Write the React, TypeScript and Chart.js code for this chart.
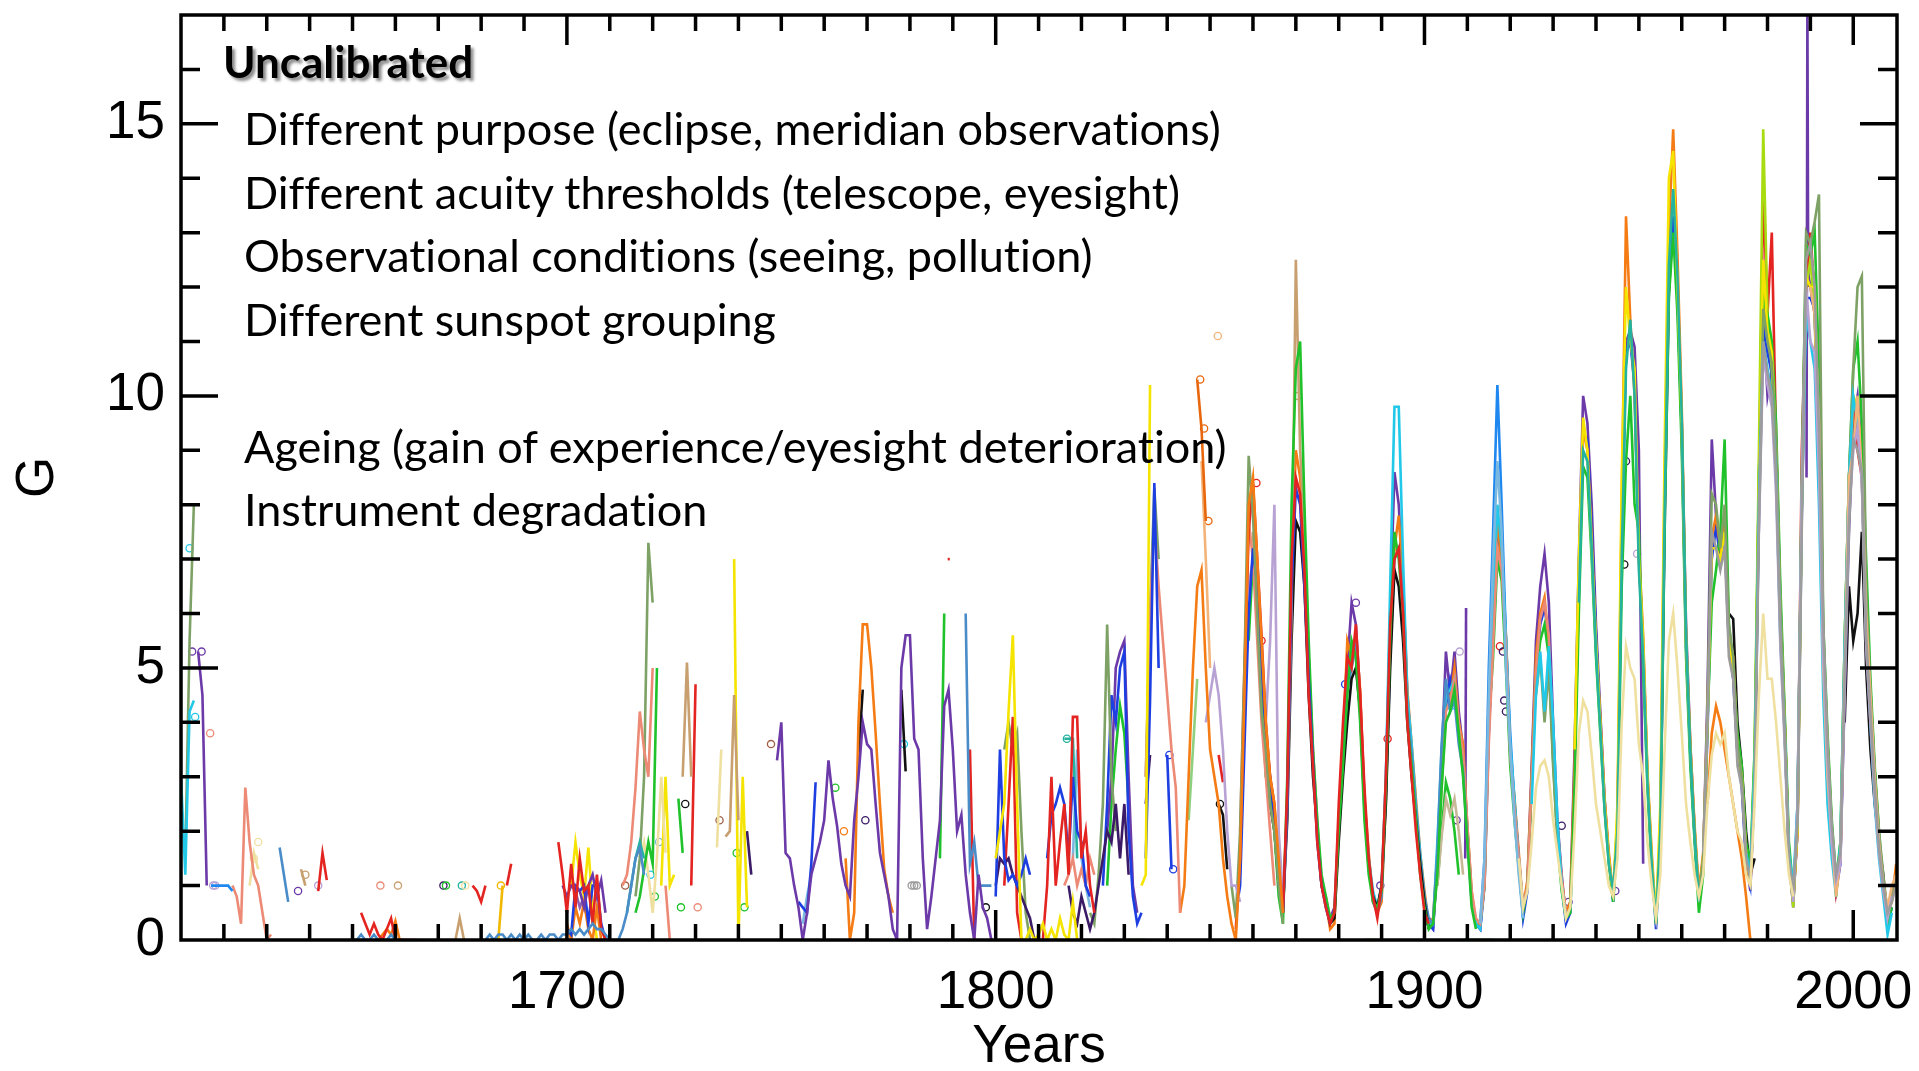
import { useEffect, useRef } from "react";
import { Chart, registerables } from "chart.js";

Chart.register(...registerables);

// ---------- axes & text ----------
const yearTicks = [1700, 1800, 1900, 2000];
const gTicks = [0, 5, 10, 15];
const yearMin = 1610;
const yearMax = 2010.2;
const gMin = 0;
const gMax = 17;
const xTitle = "Years";
const yTitle = "G";
const headline = "Uncalibrated";
const noteLines = [
  "Different purpose (eclipse, meridian observations)",
  "Different acuity thresholds (telescope, eyesight)",
  "Observational conditions (seeing, pollution)",
  "Different sunspot grouping",
  "",
  "Ageing (gain of experience/eyesight deterioration)",
  "Instrument degradation",
];

// ---------- observer series: annual values, first year in the name ----------
const cyan1610 = [3.0, 1.2, 4.2, 4.4];
const sage1611 = [1.5, 5.5, 8.0];
const violet1614 = [5.3, 4.5, 1.0];
const azure1617 = [1.0, 1.0, 1.0, 1.0, 1.0, 0.9];
const salmon1622 = [1.0, 0.8, 0.3, 2.8, 1.8, 1.2, 1.0, 0.5, 0.0, 0.1];
const cream1626 = [1.0, 1.6, 1.3];
const steel1633 = [1.7, 1.2, 0.7];
const tan1638 = [1.3, 1.0];
const red1642 = [0.9, 1.6, 1.1];
const steel1650 = [0.0, 0.0, 0.1, 0.0, 0.0, 0.1, 0.0, 0.0, 0.0, 0.1, 0.0, 0.0];
const red1652 = [0.5, 0.3, 0.1, 0.3, 0.1, 0.0, 0.2, 0.4, 0.0, 0.0, 0.0, 0.0, 0.0, 0.0];
const orange1656 = [0.0, 0.1, 0.2, 0.1, 0.35, 0.0, 0.0];
const tan1674 = [0.0, 0.4, 0.0];
const red1678 = [1.0, 0.9, 0.7, 1.0];
const steel1681 = [0.0, 0.1, 0.0, 0.1, 0.1, 0.0, 0.1, 0.0, 0.1, 0.0, 0.1, 0.0, 0.0, 0.1, 0.0, 0.1, 0.1, 0.0, 0.1, 0.1, 0.2, 0.1, 0.2, 0.1, 0.2, 0.3, 0.2, 0.2, 0.1, 0.0, 0.0, 0.0, 0.2, 0.5, 1.0, 1.5, 1.7, 1.2];
const gold1684 = [0.0, 1.0];
const red1686 = [1.0, 1.4];
const red1698 = [1.8, 1.2, 0.5, 1.4, 0.6, 1.5, 0.9, 1.0, 0.3, 1.2, 0.2, 0.0];
const violet1699 = [1.0, 0.8, 1.0, 1.0, 0.9, 0.6, 1.0, 1.2, 0.8, 1.1, 0.5];
const blue1700 = [0.2, 0.1, 1.0, 0.9, 1.0, 0.3, 1.0, 1.0, 0.3, 0.0];
const orange1700 = [0.3, 0.0, 0.6, 0.3, 0.7, 0.2, 0.0, 0.6, 0.0];
const yellow1701 = [1.0, 1.8, 1.2, 0.8, 1.7, 0.6, 0.0];
const plum1701 = [1.0, 0.9, 0.6, 0.8, 1.0];
const salmon1713 = [1.0, 1.2, 1.8, 2.8, 4.2, 3.5, 3.0, 5.0];
const teal1714 = [0.5, 1.0, 1.5, 1.8, 1.5];
const sage1716 = [0.8, 1.5, 3.0, 7.3, 6.2];
const green1716 = [0.5, 0.8, 1.3, 1.8, 1.4, 5.0];
const cream1717 = [1.5, 1.8, 1.2, 0.5, 1.5, 3.0, 1.6];
const yellow1722 = [1.0, 3.0, 1.0, 1.2];
const salmon1723 = [1.0, 0.0];
const green1726 = [2.6, 1.6];
const tan1727 = [3.0, 5.1, 3.0];
const red1729 = [1.0, 4.7];
const cream1735 = [1.7, 3.5];
const tan1737 = [1.9, 2.0, 4.5, 2.2];
const yellow1739 = [7.0, 0.0, 3.0, 0.6];
const indigo1742 = [2.0, 1.2];
const violet1749 = [3.3, 4.0, 1.6, 1.5, 1.0, 0.6, 0.0, 0.5, 1.2, 1.5, 1.8, 2.2, 3.3, 2.6, 2.1, 1.4, 1.0, 0.8, 2.2, 3.0, 4.0, 3.6, 3.5, 2.5, 1.6, 1.2, 0.8, 0.2, 0.0, 5.0, 5.6, 5.6, 3.7, 3.5, 1.5, 0.2, 0.8, 1.5, 2.2, 4.3, 4.6, 3.5, 2.0, 2.3, 1.2, 0.5, 0.0, 1.2, 0.6, 0.4, 0.0];
const blue1754 = [0.7, 0.6, 0.5, 1.4, 2.9];
const sky1755 = [0.3, 0.8, 1.2];
const orange1765 = [1.5, 0.0, 0.5, 4.0, 5.8, 5.8, 5.0, 3.8, 2.5, 1.3, 0.8, 0.5];
const black1768 = [3.4, 4.6, null, null, null, null, null, null, null, null, 4.6, 3.1];
const green1787 = [1.5, 6.0];
const steel1793 = [6.0, 1.4, 1.8, 1.0, 1.0, 1.0, 1.0];
const red1794 = [3.5, 0.0];
const yellow1800 = [1.5, 2.0, 2.5, 4.2, 5.6, 2.5, 0.0, 0.0, 0.2, 0.0, 0.1, 0.3, 0.0, 0.2, 0.0, 0.4, 0.1, 0.0, 0.7, 0.0];
const blue1800 = [0.8, 3.5, 1.5, 1.1, 1.2, 1.0, 1.2, 1.5, 1.2];
const indigo1800 = [1.0, 1.5, 1.4, 1.5, 1.2, 1.0, 0.8, 0.6, 0.4, 0.0, 0.0];
const red1802 = [1.0, 2.5, 4.1, 0.5, 0.0];
const sage1802 = [3.5, 4.0, 3.5, 3.8, 2.0, 0.5, 0.0];
const red1811 = [0.0, 1.0, 3.0, 1.0, 1.8, 2.5, 1.2, 4.1, 4.1, 1.5, 2.0, 1.0, 0.5];
const blue1812 = [1.5, 2.3, 2.5, 2.8, 2.5, 1.5, 3.0, 2.0, 1.8, 1.0, 0.8];
const teal1816 = [3.7, 3.7, 3.7, 1.5];
const salmon1816 = [1.0, 1.2, 1.5, 1.0, 1.3, 1.0, 1.5, 1.2];
const indigo1817 = [1.0, 0.5, 0.3, 0.8, 0.5, 0.2, 0.5, 1.0, 1.5, 2.0, 1.8, 2.5, 1.5, 2.5, 1.2];
const sky1818 = [1.5, 3.5, 1.5, 1.0, 0.6];
const sage1822 = [0.5, 0.3, 1.2, 2.5, 5.8, 3.0, 2.0];
const blue1825 = [1.0, 2.5, 4.5, 4.0, 5.0, 5.3, 2.0, 0.8, 0.3, 0.5];
const violet1826 = [2.0, 3.0, 5.0, 5.3, 5.5, 3.0, 1.0, 0.5];
const green1826 = [1.0, 2.5, 3.5, 4.3, 3.8, 2.5];
const green1827 = [0.0, 0.0];
const green1831 = [0.0, 0.0, 0.0, 0.0, 0.0];
const yellow1834 = [1.0, 1.2, 10.2];
const blue1835 = [1.5, 4.4, 8.4, 5.0, null, 3.4, 1.3];
const salmon1835 = [3.0, 6.0, 7.7, 6.5, 5.5, 4.5, 3.5, 2.8, 0.5];
const sage1835 = [3.0, 6.0, 8.3, 7.0];
const indigo1835 = [2.5, 3.4];
const orange1843 = [0.5, 1.0, 3.0, 5.0, 6.5, 6.8, 5.0, 3.5, 3.0, 2.5, 1.5, 0.8, 0.3, 0.0, 1.5, 4.5, 8.0, 8.5, 7.0, 5.5, 4.0, 3.0, 2.5, 1.5, 0.5];
const mint1845 = [2.2, 3.5, 4.8];
const ember1847 = [10.3, 9.4, 7.7];
const peach1848 = [8.8, 7.0, 5.0];
const lilac1849 = [4.0, 4.5, 5.0, 4.5, 3.5, 2.0, 1.0, 1.0, 0.7];
const red1852 = [3.4, 2.9];
const black1852 = [2.5, 2.3, 1.3];
const sage1855 = [1.0, 0.4, 2.0, 5.0, 8.9, 7.8, 6.0, 4.2, 3.5, 2.5, 2.0, 1.0, 0.3];
const red1856 = [0.2, 1.5, 4.8, 7.5, 8.4, 7.0, 5.6, 4.0, 3.0, 2.5, 1.2, 0.5, 2.8, 7.0, 8.5, 8.2, 6.8, 4.5, 3.2, 1.8, 1.0, 0.6, 0.3, 0.5, 2.5, 4.0, 5.2, 5.0, 5.8, 4.5, 2.8, 1.5, 0.8, 0.4, 1.0, 3.0, 5.8, 7.0, 7.2, 6.0, 4.0, 3.0, 2.0, 1.2, 0.5, 0.3];
const blue1856 = [0.5, 1.0, 3.5, 6.0, 7.2, 6.5, 5.0, 3.8, 3.0, 2.2, 1.0, 0.5, 2.5, 6.5, 8.3, 8.0, 6.5, 4.8, 3.3, 1.8, 1.0, 0.6, 0.3];
const salmon1857 = [2.0, 5.0, 7.7, 7.0, 5.5, 4.0, 3.0, 2.0, 1.0];
const lilac1858 = [4.0, 6.5, 7.0, 6.0, 5.0, 4.0, 5.5, 8.0, 2.0, 0.8];
const green1859 = [5.5, 7.0, 6.0, 4.8, 3.0, 2.8, 2.0, 0.8, 0.3, 3.0, 8.0, 10.5, 11.0, 8.0, 5.5, 3.5, 2.2, 1.2, 0.8, 0.4, 0.5, 2.0, 3.2, 4.5, 5.5, 5.2, 4.0, 2.2, 1.2, 0.7, 0.6, 0.9, 2.8, 5.5, 7.5, 7.0, 6.0, 4.0, 3.2, 2.2, 1.2, 0.6, 0.2, 0.3, 1.2, 2.8, 4.0, 4.2, 4.6, 3.8, 3.0, 1.8, 0.6, 0.2];
const tan1860 = [7.5, 6.0, 4.5, 3.5, 2.8, 2.0, 1.0, 0.5, 2.5, 6.0, 12.5, 9.0, 7.5, 5.2, 3.5, 2.2, 1.0, 0.8, 0.4];
const black1862 = [4.8, 3.2, 2.5, 2.0, 1.0, 0.6, 2.2, 5.5, 7.7, 7.5, 6.5, 4.5, 3.0, 2.0, 1.0, 0.7, 0.3, 0.4, 1.8, 3.0, 4.0, 4.8, 5.0, 4.2, 2.5, 1.3, 0.8, 0.6, 1.0, 2.5, 5.0, 6.8, 6.5, 5.5, 4.0, 3.0, 2.2, 1.4, 0.7, 0.2];
const orange1867 = [
  0.5, 2.6, 6.8,
  9.0, 8.5, 7.2, 5.0, 3.4, 2.0, 1.0, 0.7, 0.2, 0.3,
  2.2, 3.6, 5.5, 5.2, 5.6, 4.6, 2.6, 1.6, 0.7, 0.5,
  0.7, 2.6, 5.6, 7.2, 7.8, 6.6, 4.6, 3.6, 2.6, 1.6,
  0.9, 0.3, 0.4, 1.6, 3.2, 4.6, 4.4, 5.0, 4.0, 3.6,
  2.1, 0.9, 0.3, 0.3, 1.1, 4.2, 5.8, 7.8, 6.8, 5.6,
  3.4, 2.6, 1.6, 0.6, 1.1, 3.1, 5.2, 6.0, 6.3, 5.4,
  3.4, 2.1, 1.1, 0.5, 0.7, 3.2, 6.8, 9.4, 9.0, 7.4,
  5.4, 4.1, 2.6, 1.6, 0.8, 2.2, 8.0, 13.3, 11.4, 10.0,
  7.2, 5.6, 3.1, 1.6, 0.3, 2.2, 8.4, 13.0, 14.9, 12.6,
  9.8, 5.6, 3.6, 2.1, 0.9, 1.6, 4.2, 7.4, 7.8, 7.2,
  7.6, 5.6, 5.2, 3.6, 3.1, 1.6, 1.0, 3.2, 8.2, 12.0,
  11.2, 10.8, 9.2, 6.2, 4.1, 1.6, 0.8, 2.1, 8.2, 12.2,
  12.4, 12.2, 9.2, 5.6, 3.6, 2.1, 1.0, 1.6, 5.2, 8.2,
  9.8, 9.6, 9.2, 6.2, 4.6, 3.1, 1.9, 1.1, 0.5, 0.7, 1.4,
];
const violet1878 = [
  0.4, 0.6,
  2.2, 3.8, 5.0, 6.2, 5.8, 4.5, 2.6, 1.4, 0.8, 0.5,
  0.9, 3.0, 6.0, 8.6, 8.0, 6.5, 4.5, 3.5, 2.4, 1.5,
  0.8, 0.3, 0.2, 1.5, 3.3, 5.3, 4.5, 5.3, 4.2, 3.5,
  2.0, 0.8, 0.3, 0.2, 1.2, 4.0, 6.0, 7.3, 7.3, 5.5,
  3.5, 2.5, 1.5, 0.5, 1.0, 3.2, 5.5, 6.5, 7.1, 6.2,
  4.0, 2.2, 1.2, 0.4, 0.7, 3.5, 7.0, 10.0, 9.5, 8.0,
  5.8, 4.2, 2.6, 1.5, 0.8, 2.2, 7.5, 11.0, 11.2, 10.9,
  9.0, 1.4,
];
const steel1880 = [2.0, 3.4, 4.6, 5.0, 5.4, 4.2, 2.4, 1.4, 0.7, 0.5, 0.8, 2.6, 5.2, 7.0, 7.2, 6.2, 4.2, 3.4, 2.4, 1.5, 0.8, 0.4, 0.3, 1.6, 3.6, 4.8, 4.2, 4.4, 3.6, 3.1, 1.8];
const green1886 = [0.0, 0.0, 0.0, 0.0];
const cyan1886 = [
  2.5, 1.5, 0.9, 0.6,
  1.0, 3.0, 6.5, 9.8, 9.8, 7.0, 4.5, 3.6, 2.5, 1.6,
  0.8, 0.3, 0.3, 1.8, 3.5, 4.5, 4.6, 4.8, 3.8, 3.3,
  2.0, 0.8, 0.3, 0.2, 1.2, 4.2, 6.0, 8.0, 7.2, 5.6,
  3.6, 2.6, 1.4, 0.4,
];
const blue1895 = [
  6.0, 4.2, 3.3, 2.3, 1.4,
  0.7, 0.3, 0.2, 1.4, 3.0, 4.3, 4.8, 4.5, 3.8, 3.3,
  1.9, 0.7, 0.3, 0.2, 1.0, 3.8, 5.5, 7.6, 7.0, 5.3,
  3.5, 2.4, 1.4, 0.4, 0.9, 3.0, 5.0, 5.8, 6.1, 5.6,
  3.6, 2.0, 1.0, 0.3, 0.5, 3.0, 6.5, 9.3, 9.2, 7.6,
  5.6, 4.0, 2.5, 1.5, 0.7, 2.0, 7.2, 10.8, 11.0, 10.2,
  7.0, 5.4, 3.0, 1.4, 0.2, 1.8, 7.8, 12.0, 13.3, 11.8,
  9.3, 5.4, 3.4, 1.9, 0.7, 1.4, 3.8, 7.0, 7.6, 7.0,
  7.4, 5.4, 4.8, 3.4, 2.8, 1.4, 1.0, 2.8, 7.8, 11.2,
  10.8, 10.4, 8.8, 5.8, 3.9, 1.4, 0.7, 2.0, 7.8, 11.8,
  11.8, 11.6, 8.8, 5.4, 3.3, 1.9, 0.9, 1.4, 5.0, 8.0,
  9.6, 9.4, 8.8, 5.8, 4.4, 2.9, 1.7, 0.9, 0.3, 0.6,
];
const salmon1902 = [0.3, 1.3, 2.8, 4.2, 4.4, 4.8, 4.0, 3.4, 2.1, 0.9, 0.4, 0.3, 1.0, 3.6, 5.4, 7.2, 6.8, 5.4, 3.4, 2.4, 1.5, 0.6, 1.0, 2.9, 4.9, 5.9, 6.2, 5.6, 3.5, 2.0, 1.1, 0.5];
const tan1903 = [1.0, 1.9, 2.6, 2.3, 2.6, 2.0, 1.2];
const green1903 = [1.0, 2.0, 2.9, 2.6, 2.0, 1.2];
const green1909 = [0.0, 0.0, 0.0, 0.0, 0.0, 0.0, 0.0, 0.0];
const sky1913 = [0.3, 1.5, 4.5, 7.0, 8.8, 7.5, 5.0, 3.5, 2.2, 1.2, 0.4];
const azure1913 = [0.3, 1.5, 5.0, 7.5, 10.2, 8.0, 5.5, 3.8, 2.5, 1.5, 0.6];
const cyan1925 = [2.5, 4.5, 5.3, 4.2, 5.4, 4.0, 2.2, 1.0, 0.4];
const sage1926 = [4.5, 5.2, 4.0, 5.0, 3.2, 1.8];
const green1913 = [
  0.3, 1.0, 4.0, 5.2, 7.0, 6.6, 5.0,
  3.2, 2.2, 1.3, 0.5, 1.0, 2.8, 4.8, 5.5, 5.8, 5.2,
  3.3, 1.8, 0.9, 0.4, 0.5, 2.8, 6.0, 8.7, 8.5, 7.0,
  5.2, 3.8, 2.4, 1.4, 0.7, 1.8, 6.5, 8.8, 10.0, 8.0,
  7.5, 5.0, 2.8, 1.3, 0.3, 1.8, 7.5, 11.8, 13.0, 11.5,
  9.0, 5.2, 3.2, 1.8, 0.5, 1.2, 4.0, 6.2, 6.8, 7.5,
  9.2, 5.8, 5.0, 3.8, 3.2, 1.8, 1.4, 3.5, 8.5, 11.8,
  11.5, 11.0, 9.5, 6.5, 4.2, 1.8, 0.9, 2.2, 8.5, 12.8,
  12.6, 13.0, 10.5, 5.8, 3.8, 2.2, 1.1, 1.8, 5.5, 8.5,
  10.5, 11.0, 9.5, 7.0, 4.8, 3.2, 2.0, 1.0, 0.3, 0.6,
];
const cream1922 = [
  1.5, 0.6, 0.9, 1.8, 2.8, 3.2, 3.3, 3.0,
  2.2, 1.6, 1.0, 0.4, 0.6, 2.0, 3.8, 4.4, 4.2, 3.4,
  2.5, 2.0, 1.5, 1.0, 0.8, 1.5, 4.0, 5.4, 5.0, 4.8,
  3.6, 3.0, 1.8, 1.0, 0.4, 1.2, 3.5, 5.5, 6.0, 5.0,
  3.8, 2.5, 1.8, 1.2, 0.8, 1.2, 2.5, 3.4, 3.8, 3.6,
  3.8, 3.0, 2.5, 2.0, 1.8, 1.2, 1.0, 2.5, 4.5, 6.0,
  4.8, 4.8, 4.0, 3.0, 2.0, 1.2, 0.8,
];
const yellow1935 = [
  3.5, 7.0, 9.6, 9.0, 7.2,
  5.5, 4.0, 2.5, 1.5, 0.8, 2.5, 8.5, 12.0, 11.0, 10.5,
  7.0, 5.5, 3.0, 1.5, 0.4, 2.5, 9.0, 14.0, 14.5, 12.0,
  9.5, 5.5, 3.5, 2.0, 0.8, 1.5, 4.0, 7.2, 7.2, 7.0,
  7.5, 5.5, 5.0, 3.5, 3.0, 1.6, 1.0, 3.2, 8.5, 12.5,
  11.2, 10.8, 9.0, 6.0, 4.0, 1.5, 0.8, 2.0, 8.0, 12.2,
  12.0, 12.0, 9.0, 5.5, 3.5, 2.0, 1.0, 1.5, 5.5, 8.5,
  10.0, 9.8,
];
const teal1936 = [6.2, 9.0, 8.8, 7.2, 5.3, 3.9, 2.4, 1.4, 0.9, 2.0, 7.0, 10.5, 11.4, 10.0, 6.8, 5.2, 2.9, 1.4, 0.3, 2.0, 7.8, 12.4, 13.8, 12.2, 9.6, 5.6, 3.4, 1.9, 0.7];
const violet1955 = [
  2.0, 7.5, 11.9, 13.2, 12.0,
  9.5, 5.8, 3.6, 2.0, 0.8, 1.5, 4.5, 9.2, 7.8, 7.0,
  7.8, 5.5, 5.0, 3.5, 3.0, 1.5, 0.9, 3.0, 8.5, 11.5,
  10.0, 10.5, 9.0, 6.0, 4.0, 1.5, 0.6, 2.5, 8.0, 12.5,
  12.0, 11.5, 8.5, 5.5, 3.5, 2.0, 1.0, 1.5, 4.5, 7.5,
  9.5, 10.0, 9.0, 6.0, 4.5, 3.0, 1.8, 1.0, 0.4, 0.8,
];
const sage1960 = [
  9.5, 5.5, 3.5, 2.0, 0.8, 1.5, 4.2, 8.2, 8.0, 7.2,
  8.0, 5.8, 5.2, 3.6, 3.0, 1.6, 1.2, 3.0, 8.0, 11.6,
  11.0, 10.6, 9.2, 6.2, 4.0, 1.6, 0.8, 2.2, 8.2, 13.0,
  12.8, 13.2, 13.7, 5.8, 3.6, 2.0, 1.0, 1.6, 5.5, 8.5,
  10.5, 12.0, 12.2, 6.5, 4.6, 3.1, 2.0, 1.2, 0.5, 0.9, 1.2,
];
const gray1965 = [
  1.6, 4.0, 7.5, 7.2, 6.8,
  7.2, 5.2, 4.8, 3.2, 2.8, 1.5, 1.1, 2.8, 7.6, 11.0,
  10.4, 10.0, 8.5, 5.6, 3.8, 1.5, 0.9, 2.2, 7.6, 12.5,
  12.8, 12.0, 9.4, 5.8, 3.6, 2.1, 1.2, 1.6, 4.8, 7.6,
  9.2, 9.0, 8.6, 5.6, 4.2, 2.8, 1.7, 1.0, 0.5, 0.7, 1.0,
];
const orange1966 = [2.5, 3.8, 4.3, 4.0, 3.5, 3.0, 2.5, 2.0, 1.5, 0.8, 0.0];
const black1971 = [6.0, 5.9, 4.0, 3.2, 2.0, 1.2, 1.5];
const cyan1975 = [1.6, 1.2, 3.2, 8.0, 11.0, 10.5, 10.0, 8.5, 5.5, 3.8, 1.6, 1.0, 2.5, 8.0, 11.5, 11.0, 10.5, 8.0, 4.5, 2.5, 1.5, 0.8, 1.8, 5.5, 8.5, 10.0, 9.5, 8.5, 5.5, 4.0, 2.5, 1.5, 0.8, 0.1, 0.5];
const lime1975 = [1.6, 1.1, 3.5, 9.0, 14.9, 11.5, 10.5, 9.0, 6.0, 3.8, 1.5, 0.6, 2.2, 8.0, 12.0, 12.5, 11.5, 8.8, 5.2, 3.2, 2.0, 0.8, 1.8];
const red1975 = [1.5, 1.0, 3.0, 8.2, 13.8, 11.5, 13.0, 9.2, 6.0, 4.0, 1.5, 0.7, 2.0, 9.0, 12.0, 13.0, 11.8, 9.0, 5.5, 3.5, 2.0, 0.9, 1.5, 5.0, 8.5, 10.0, 9.0, 8.5, 5.5, 4.0];
const lilac1978 = [7.5, 10.8, 10.2, 9.8, 8.2, 5.4, 3.6, 1.4, 0.7, 2.4, 8.4, 12.0, 11.0, 10.8, 8.6, 5.2, 3.3, 1.8, 1.1, 1.4, 4.6, 7.8, 9.0, 9.4, 8.4, 5.4, 4.0, 2.6, 1.6, 0.9, 0.4, 0.8];
const peach1990 = [12.0, 11.5, 9.5, 5.0, 3.0, 1.8, 0.8, 1.5, 5.0, 8.5, 9.0, 10.0, 8.5, 6.0, 4.5, 3.0, 1.8, 1.0, 0.6, 1.0, 1.2];
const black1998 = [4.0, 6.5, 5.5, 6.0, 7.5, 5.0, 3.5, 2.5, 1.8, 1.2, 0.3];

// short sub-annual strokes (years, values)
const spike1989Years = [1989.1, 1989.3, 1989.5];
const spike1989G = [8.5, 17.2, 12.0];
const spike1909Years = [1909.5, 1909.7];
const spike1909G = [1.5, 6.1];
const dash1789Years = [1788.8, 1789.3];
const dash1789G = [7.0, 7.0];

// isolated open-circle readings
const ringYears = [1612.0, 1612.6, 1613.3, 1614.8, 1616.8, 1617.5, 1618.0, 1627.0, 1628.0, 1637.3, 1639.0, 1642.0, 1656.5, 1660.6, 1671.2, 1671.8, 1675.5, 1676.3, 1684.6, 1713.6, 1719.5, 1720.5, 1721.5, 1726.6, 1727.6, 1730.5, 1735.6, 1739.6, 1741.4, 1747.6, 1762.6, 1764.6, 1769.6, 1778.6, 1780.4, 1781.0, 1781.6, 1797.7, 1816.6, 1847.7, 1851.8, 1884.0, 1907.5, 1944.5, 1947.0,
  1840.5, 1841.4, 1848.6, 1849.6, 1852.3, 1860.8, 1862.0, 1870.5, 1881.5, 1889.7, 1891.4, 1893.0, 1900.8, 1908.2, 1906.2, 1917.6, 1918.3, 1918.6, 1919.0, 1932.0, 1933.6, 1946.6, 1949.6];
const ringG = [7.2, 5.3, 4.1, 5.3, 3.8, 1.0, 1.0, 1.5, 1.8, 0.9, 1.2, 1.0, 1.0, 1.0, 1.0, 1.0, 1.0, 1.0, 1.0, 1.0, 1.2, 0.8, 1.8, 0.6, 2.5, 0.6, 2.2, 1.6, 0.6, 3.6, 2.8, 2.0, 2.2, 3.6, 1.0, 1.0, 1.0, 0.6, 3.7, 10.3, 11.1, 6.2, 2.2, 0.9, 8.8,
  3.4, 1.3, 9.4, 7.7, 2.5, 8.4, 5.5, 10.0, 4.7, 1.0, 3.7, 7.1, 0.35, 5.3, 4.3, 5.4, 5.3, 4.4, 4.2, 2.1, 0.7, 6.9, 7.1];

// ---------- colours ----------
const C = {
  violet: "#6c3aa8",
  indigo: "#3b1a66",
  plum: "#9060b0",
  orange: "#f57c14",
  ember: "#e8660c",
  peach: "#f3b47a",
  green: "#1fc22a",
  sage: "#7ea266",
  lime: "#a8dc10",
  mint: "#8fd080",
  blue: "#1d3fe2",
  azure: "#1e88f0",
  steel: "#4a8cc8",
  sky: "#7ab8e0",
  cyan: "#22c8e8",
  teal: "#25b3a0",
  red: "#e42420",
  yellow: "#f5e400",
  gold: "#f0b800",
  cream: "#efe0a0",
  salmon: "#ec8a76",
  tan: "#c8a070",
  khaki: "#c8b898",
  lilac: "#b8a2d4",
  black: "#111111",
  gray: "#9c9c9c",
  brown: "#a06048",
};

const ringColors = [C.cyan, C.violet, C.cyan, C.violet, C.salmon, C.lilac, C.lilac, C.cream, C.cream, C.violet, C.tan, C.lilac, C.salmon, C.tan, C.indigo, C.green, C.teal, C.cream, C.gold, C.brown, C.cyan, C.green, C.sky, C.green, C.black, C.salmon, C.brown, C.green, C.green, C.brown, C.green, C.orange, C.indigo, C.cyan, C.gray, C.gray, C.gray, C.black, C.teal, C.ember, C.peach, C.violet, C.violet, C.violet, C.indigo,
  C.blue, C.blue, C.ember, C.ember, C.black, C.red, C.red, C.tan, C.blue, C.violet, C.red, C.salmon, C.violet, C.lilac, C.cyan, C.red, C.indigo, C.indigo, C.indigo, C.indigo, C.violet, C.black, C.lilac];

const LINES: [number, (number | null)[], string][] = [
  [1610, cyan1610, C.cyan], [1611, sage1611, C.sage], [1614, violet1614, C.violet],
  [1617, azure1617, C.azure], [1622, salmon1622, C.salmon], [1626, cream1626, C.cream],
  [1633, steel1633, C.steel], [1638, tan1638, C.tan], [1642, red1642, C.red],
  [1650, steel1650, C.steel], [1652, red1652, C.red], [1656, orange1656, C.orange],
  [1674, tan1674, C.tan], [1678, red1678, C.red], [1681, steel1681, C.steel],
  [1684, gold1684, C.gold], [1686, red1686, C.red], [1698, red1698, C.red],
  [1699, violet1699, C.violet], [1700, blue1700, C.blue], [1700, orange1700, C.orange],
  [1701, yellow1701, C.yellow], [1701, plum1701, C.plum], [1713, salmon1713, C.salmon],
  [1714, teal1714, C.teal], [1716, sage1716, C.sage], [1716, green1716, C.green],
  [1717, cream1717, C.cream], [1722, yellow1722, C.yellow], [1723, salmon1723, C.salmon],
  [1726, green1726, C.green], [1727, tan1727, C.tan], [1729, red1729, C.red],
  [1735, cream1735, C.cream], [1737, tan1737, C.tan], [1739, yellow1739, C.yellow],
  [1742, indigo1742, C.indigo], [1749, violet1749, C.violet], [1754, blue1754, C.blue],
  [1755, sky1755, C.sky], [1765, orange1765, C.orange], [1768, black1768, C.black],
  [1787, green1787, C.green], [1793, steel1793, C.steel], [1794, red1794, C.red],
  [1800, yellow1800, C.yellow], [1800, blue1800, C.blue], [1800, indigo1800, C.indigo],
  [1802, red1802, C.red], [1802, sage1802, C.sage], [1811, red1811, C.red],
  [1812, blue1812, C.blue], [1816, teal1816, C.teal], [1816, salmon1816, C.salmon],
  [1817, indigo1817, C.indigo], [1818, sky1818, C.sky], [1822, sage1822, C.sage],
  [1825, blue1825, C.blue], [1826, violet1826, C.violet], [1826, green1826, C.green],
  [1827, green1827, C.green], [1831, green1831, C.green],
  [1834, yellow1834, C.yellow], [1835, blue1835, C.blue], [1835, salmon1835, C.salmon],
  [1835, sage1835, C.sage], [1835, indigo1835, C.indigo], [1843, orange1843, C.orange],
  [1845, mint1845, C.mint], [1847, ember1847, C.ember], [1848, peach1848, C.peach],
  [1849, lilac1849, C.lilac], [1852, red1852, C.red], [1852, black1852, C.black],
  [1922, cream1922, C.cream],
  [1855, sage1855, C.sage], [1856, red1856, C.red], [1856, blue1856, C.blue],
  [1857, salmon1857, C.salmon], [1858, lilac1858, C.lilac], [1859, green1859, C.green],
  [1860, tan1860, C.tan], [1862, black1862, C.black], [1880, steel1880, C.steel],
  [1886, green1886, C.green], [1909, green1909, C.green],
  [1903, tan1903, C.khaki], [1903, green1903, C.green], [1913, sky1913, C.sky],
  [1925, cyan1925, C.cyan], [1926, sage1926, C.sage],
  [1902, salmon1902, C.salmon], [1936, teal1936, C.teal], [1965, gray1965, C.gray],
  [1978, lilac1978, C.lilac], [1990, peach1990, C.peach], [1966, orange1966, C.orange],
  [1886, cyan1886, C.cyan], [1975, cyan1975, C.cyan], [1913, azure1913, C.azure],
  [1960, sage1960, C.sage], [1935, yellow1935, C.yellow], [1913, green1913, C.green],
  [1975, lime1975, C.lime], [1975, red1975, C.red], [1867, orange1867, C.orange],
  [1895, blue1895, C.blue], [1878, violet1878, C.violet], [1955, violet1955, C.violet],
  [1971, black1971, C.black], [1998, black1998, C.black],
];

const STROKES: [number[], number[], string][] = [
  [spike1989Years, spike1989G, C.violet],
  [spike1909Years, spike1909G, C.violet],
  [dash1789Years, dash1789G, C.red],
];

const TICK_FONT = { family: "'Liberation Sans', Arial, sans-serif", size: 53 };

const framePlugin = {
  id: "frameTicks",
  afterDraw(chart: any) {
    const { ctx, chartArea: a, scales } = chart;
    const xs = scales.x;
    const ys = scales.y;
    ctx.save();
    ctx.strokeStyle = "#000";
    ctx.lineWidth = 3.5;
    ctx.beginPath();
    for (let v = Math.ceil(xs.min / 10) * 10; v <= xs.max; v += 10) {
      const px = xs.getPixelForValue(v);
      if (px <= a.left + 2 || px >= a.right - 2) continue;
      const len = v % 100 === 0 ? 30 : 16;
      ctx.moveTo(px, a.bottom);
      ctx.lineTo(px, a.bottom - len);
      ctx.moveTo(px, a.top);
      ctx.lineTo(px, a.top + len);
    }
    for (let g = Math.ceil(ys.min); g <= ys.max; g += 1) {
      const py = ys.getPixelForValue(g);
      if (py <= a.top + 2 || py >= a.bottom - 2) continue;
      const len = g % 5 === 0 ? 37 : 19;
      ctx.moveTo(a.left, py);
      ctx.lineTo(a.left + len, py);
      ctx.moveTo(a.right, py);
      ctx.lineTo(a.right - len, py);
    }
    ctx.stroke();
    ctx.strokeRect(a.left, a.top, a.right - a.left, a.bottom - a.top);
    ctx.restore();
  },
};

const zeroPadding = (s: any) => {
  s.paddingTop = 0;
  s.paddingBottom = 0;
  s.paddingLeft = 0;
  s.paddingRight = 0;
};

export default function App() {
  const ref = useRef<HTMLCanvasElement>(null);

  useEffect(() => {
    document.body.style.margin = "0";
    document.body.style.overflow = "hidden";
    const lineSets = LINES.map(([from, vals, color]) => ({
      data: vals.map((v, i) => ({ x: from + i, y: v })),
      borderColor: color,
      backgroundColor: color,
      borderWidth: 2.6,
      pointRadius: 0,
      spanGaps: false,
      fill: false,
    }));
    const strokeSets = STROKES.map(([xs, gs, color]) => ({
      data: xs.map((x, i) => ({ x, y: gs[i] })),
      borderColor: color,
      borderWidth: 2.6,
      pointRadius: 0,
      fill: false,
    }));
    const ringSet = {
      data: ringYears.map((x, i) => ({ x, y: ringG[i] })),
      showLine: false,
      pointRadius: 3.6,
      pointBorderWidth: 1.3,
      pointBackgroundColor: "rgba(0,0,0,0)",
      pointBorderColor: ringColors,
      borderColor: "rgba(0,0,0,0)",
    };
    const chart = new Chart(ref.current as HTMLCanvasElement, {
      type: "line",
      data: { datasets: [...lineSets, ...strokeSets, ringSet] as any },
      options: {
        responsive: false,
        animation: false,
        devicePixelRatio: 1,
        events: [],
        elements: { line: { tension: 0 } },
        layout: { padding: { top: 15, right: 22, left: 0, bottom: 0 } },
        plugins: { legend: { display: false }, tooltip: { enabled: false } },
        scales: {
          x: {
            type: "linear",
            min: yearMin,
            max: yearMax,
            grid: { display: false, drawTicks: false },
            border: { display: false },
            afterBuildTicks: (s: any) => {
              s.ticks = yearTicks.map((v) => ({ value: v }));
            },
            afterFit: (s: any) => {
              s.height = 131;
              zeroPadding(s);
            },
            ticks: {
              font: TICK_FONT,
              color: "#000",
              padding: 22,
              maxRotation: 0,
              autoSkip: false,
              callback: (v: any) => String(v),
            },
            title: {
              display: true,
              text: xTitle,
              color: "#000",
              font: { ...TICK_FONT, lineHeight: 0.8 },
              padding: { top: 0, bottom: 2 },
            },
          },
          y: {
            type: "linear",
            min: gMin,
            max: gMax,
            grid: { display: false, drawTicks: false },
            border: { display: false },
            afterBuildTicks: (s: any) => {
              s.ticks = gTicks.map((v) => ({ value: v }));
            },
            afterFit: (s: any) => {
              s.width = 181;
              zeroPadding(s);
            },
            ticks: {
              font: TICK_FONT,
              color: "#000",
              padding: 16,
              autoSkip: false,
              callback: (v: any) => String(v),
            },
            title: {
              display: true,
              text: yTitle,
              color: "#000",
              font: { ...TICK_FONT, lineHeight: 0.8 },
              padding: { top: 17, bottom: 0 },
            },
          },
        },
      },
      plugins: [framePlugin],
    });
    return () => chart.destroy();
  }, []);

  return (
    <div style={{ position: "relative", width: 1919, height: 1071, background: "#fff", overflow: "hidden" }}>
      <canvas ref={ref} width={1919} height={1071} style={{ display: "block" }} />
      <div
        style={{
          position: "absolute",
          left: 223,
          top: 35,
          fontFamily: "Lato, 'Open Sans', sans-serif",
          fontWeight: 700,
          fontSize: 44,
          lineHeight: 1.2,
          color: "#000",
          whiteSpace: "nowrap",
          fontVariantLigatures: "none",
          textShadow: "3px 3px 3px rgba(0,0,0,0.45)",
        }}
      >
        {headline}
      </div>
      <div
        style={{
          position: "absolute",
          left: 244,
          top: 97,
          fontFamily: "Lato, 'Open Sans', sans-serif",
          fontSize: 45,
          lineHeight: "63.5px",
          color: "#000",
          whiteSpace: "nowrap",
          fontVariantLigatures: "none",
        }}
      >
        {noteLines.map((t, i) => (
          <div key={i} style={{ height: 63.5 }}>
            {t || "\u00a0"}
          </div>
        ))}
      </div>
    </div>
  );
}
